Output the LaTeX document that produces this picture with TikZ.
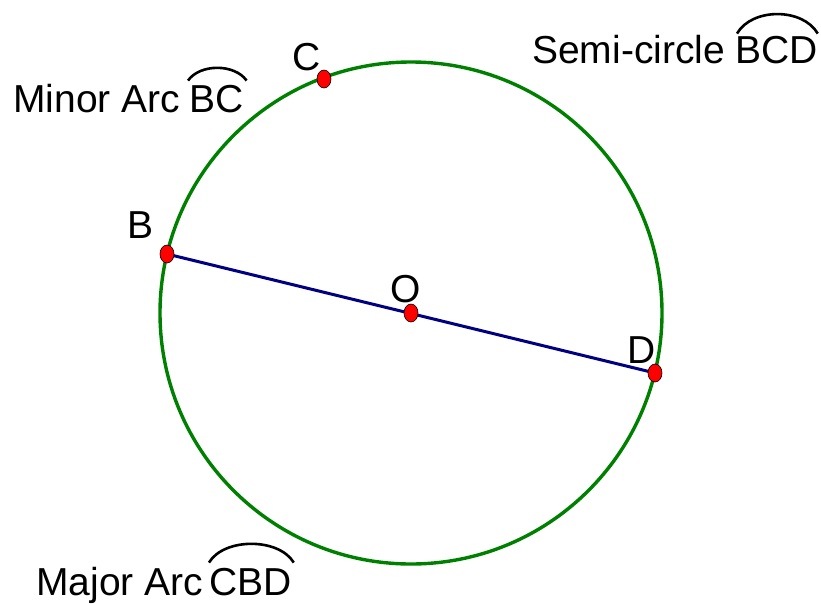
\documentclass[tikz,border=0pt]{standalone}
\usepackage{fontspec}
\setmainfont{Liberation Sans}
\usepackage{tikz}
\usetikzlibrary{shapes.geometric}
\definecolor{rimgreen}{HTML}{008000}
\definecolor{chordblue}{HTML}{000080}

\begin{document}
\begin{tikzpicture}[
  x=1pt, y=-1pt,
  dot/.style={ellipse, draw=black, line width=0.6pt, fill=red, minimum width=14pt, minimum height=18pt, inner sep=0pt},
  lbl/.style={font=\fontsize{39}{44}\selectfont, inner sep=0pt, anchor=base west},
  arcmark/.style={black, line width=2.6pt}
]
\useasboundingbox (0,0) rectangle (821,603);

% Points on the circle
\coordinate (ctr) at (411,313);
\coordinate (b) at (167,254);
\coordinate (c) at (324,79);
\coordinate (d) at (655,373);

% Circle and diameter
\draw[rimgreen, line width=3.4pt] (ctr) circle[radius=251];
\draw[chordblue, line width=3pt] (b) -- (d);

% Red dots
\node[dot] (B) at (b) {};
\node[dot] (C) at (c) {};
\node[dot] (O) at (ctr) {};
\node[dot] (D) at (d) {};

% Point labels
\node[lbl] (labC) at (292,70) {C};
\node[lbl] (labB) at (127,238) {B};
\node[lbl] (labO) at (390,302) {O};
\node[lbl] (labD) at (627,363) {D};

% Arc names
\node[lbl] (minor) at (13,112) {Minor Arc};
\node[lbl] (minorBC) at (189,112) {BC};
\draw[arcmark] ([xshift=-1pt,yshift=4pt]minorBC.north west) .. controls +(12,-17) and +(-12,-17) .. ([xshift=3pt,yshift=4pt]minorBC.north east);

\node[lbl] (semi) at (532,63) {Semi-circle};
\node[lbl] (semiBCD) at (735,63) {BCD};
\draw[arcmark] ([xshift=2pt,yshift=2pt]semiBCD.north west) .. controls +(15,-26) and +(-15,-26) .. ([yshift=2pt]semiBCD.north east);

\node[lbl] (major) at (36,595) {Major Arc};
\node[lbl] (majorCBD) at (209,595) {CBD};
\draw[arcmark] ([yshift=5pt]majorCBD.north west) .. controls +(15,-25) and +(-15,-25) .. ([xshift=2pt,yshift=5pt]majorCBD.north east);
\end{tikzpicture}
\end{document}
